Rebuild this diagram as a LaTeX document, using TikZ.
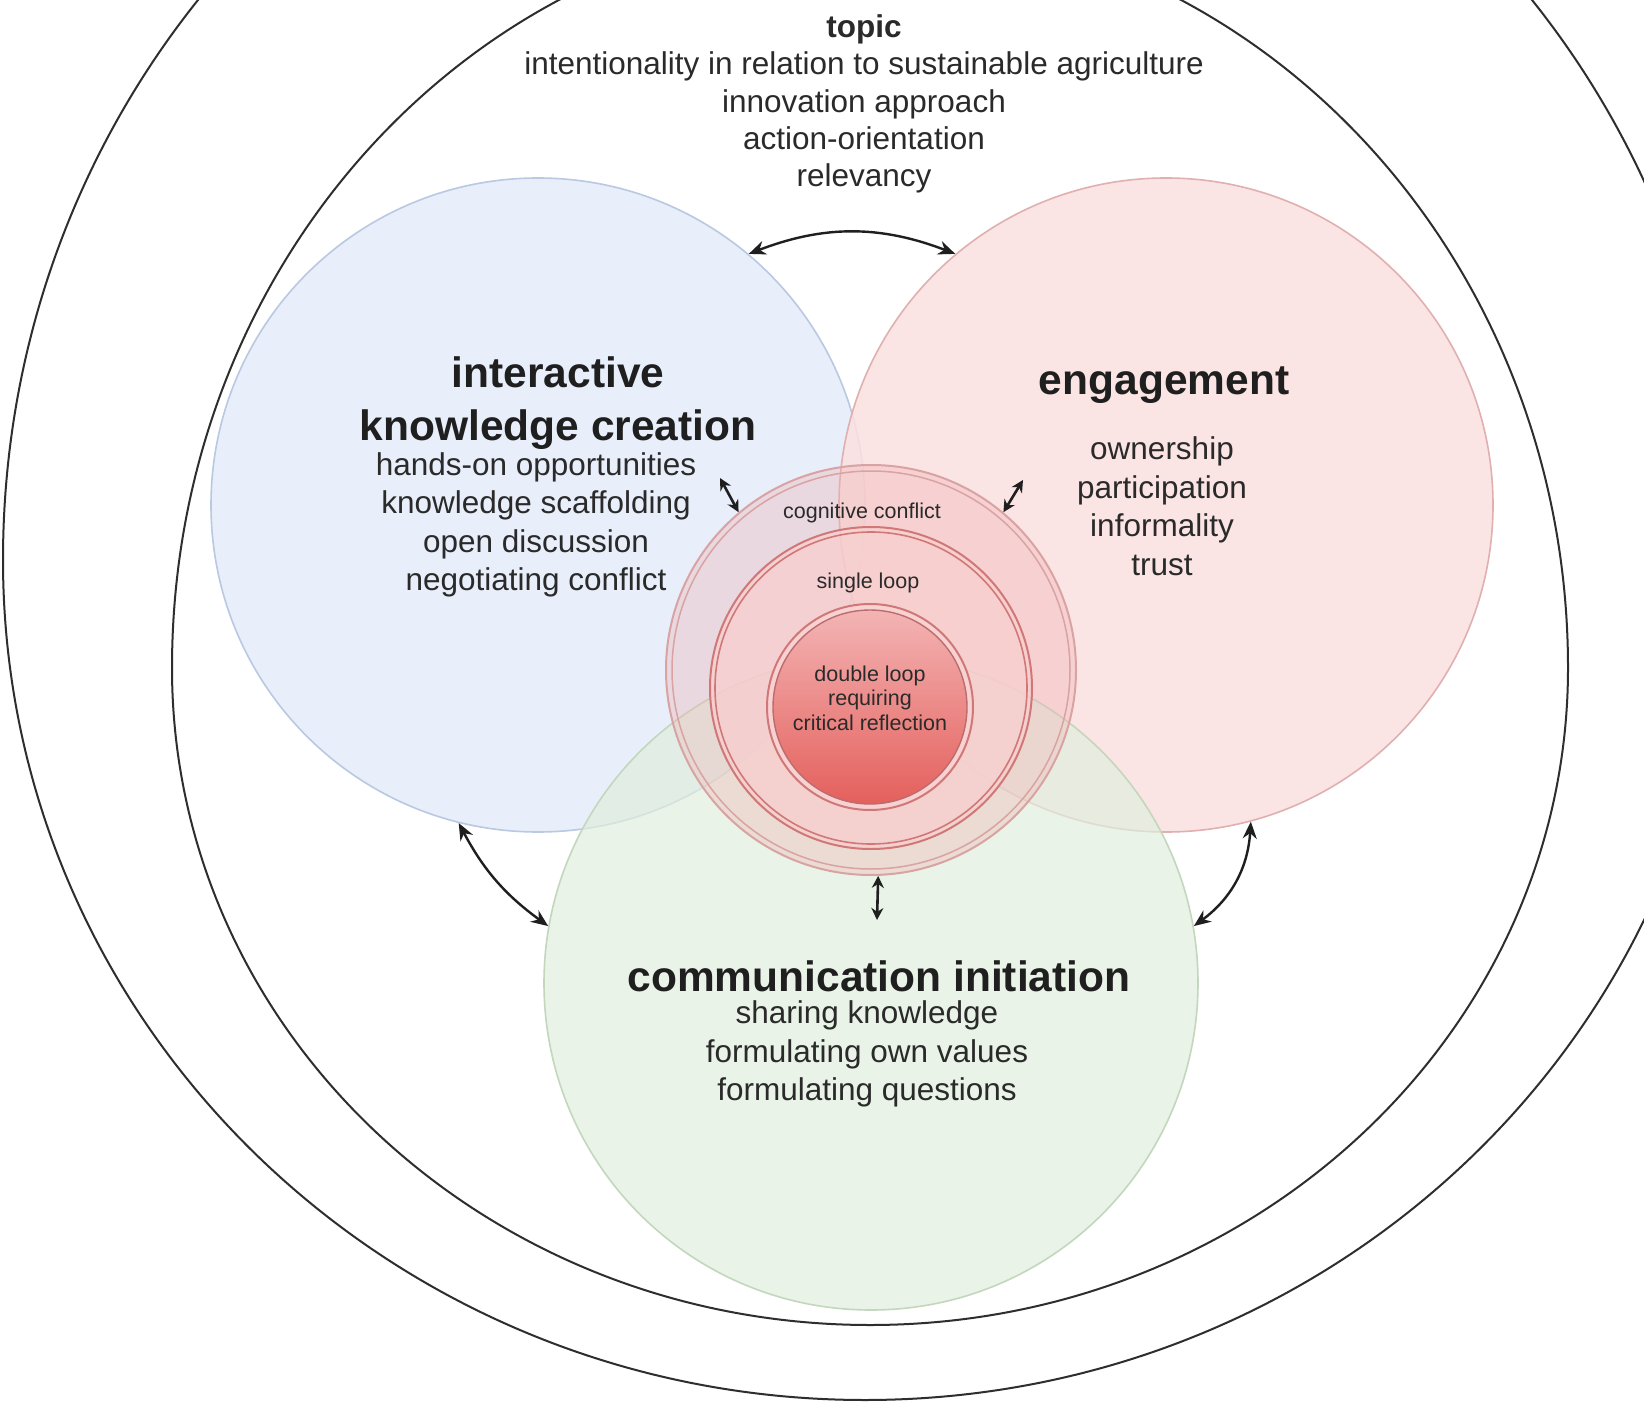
\documentclass[tikz,border=0pt]{standalone}
\usepackage{fontspec}
\setmainfont{Liberation Sans}
\usetikzlibrary{arrows.meta}
\definecolor{bluefill}{HTML}{E4ECFA}
\definecolor{blueedge}{HTML}{B9C9E2}
\definecolor{pinkfill}{HTML}{FBE0E0}
\definecolor{pinkedge}{HTML}{E0B0B0}
\definecolor{greenfill}{HTML}{E0EEDD}
\definecolor{greenedge}{HTML}{C3D7BD}
\definecolor{ringAfill}{HTML}{F0B0B0}
\definecolor{ringAedge}{HTML}{D9A3A3}
\definecolor{ringBfill}{HTML}{F7CFCF}
\definecolor{ringBedge}{HTML}{D07878}
\definecolor{ringCtop}{HTML}{F3B4B4}
\definecolor{ringCbot}{HTML}{E4605C}
\definecolor{txt}{HTML}{2A2A2A}
\begin{document}
\begin{tikzpicture}[x=1pt,y=-1pt,
  egg/.style={draw=black!82,line width=2pt},
  bigcirc/.style={circle,minimum size=654pt,inner sep=0pt,line width=1.6pt,fill opacity=0.85},
  biarrow/.style={{Stealth[length=17pt,width=14pt]}-{Stealth[length=17pt,width=14pt]},line width=2.4pt,black!88},
  shortarrow/.style={{Stealth[length=12pt,width=12pt]}-{Stealth[length=12pt,width=12pt]},line width=2.6pt,black!88},
  body/.style={font=\fontsize{31.5}{38.5}\selectfont,text=txt,align=center,inner sep=0pt},
  topicfont/.style={font=\fontsize{31.5}{37.3}\selectfont,text=txt,align=center,inner sep=0pt},
  head/.style={font=\fontsize{42.5}{53}\selectfont\bfseries,text=black!88,align=center,inner sep=0pt},
  small/.style={font=\fontsize{21.5}{24.5}\selectfont,text=txt,align=center,inner sep=0pt}]
\useasboundingbox (0,0) rectangle (1644,1404);
\fill[white] (0,0) rectangle (1644,1404);
\clip (0,0) rectangle (1644,1404);

% outer and inner egg-shaped boundaries
\draw[egg] (3,560) arc[start angle=180,end angle=0,x radius=862pt,y radius=884pt]
  arc[start angle=0,end angle=-180,x radius=862pt,y radius=840pt] -- cycle;
\draw[egg] (172,668) arc[start angle=180,end angle=0,x radius=698pt,y radius=746pt]
  arc[start angle=0,end angle=-180,x radius=698pt,y radius=657pt] -- cycle;

% three main circles
\node[bigcirc,fill=bluefill,draw=blueedge] (kc) at (538,505) {};
\node[bigcirc,fill=pinkfill,draw=pinkedge] (en) at (1166,505) {};
\node[bigcirc,fill=greenfill,draw=greenedge,fill opacity=0.7] (ci) at (871,983) {};

% central rings
\node[circle,inner sep=0pt,minimum size=410pt,fill=ringAfill,fill opacity=0.35,draw=ringAedge,line width=2pt] (cc) at (871,670) {};
\draw[ringAedge,line width=1.5pt] (cc.center) circle[radius=199pt];
\node[circle,inner sep=0pt,minimum size=322pt,fill=ringBfill,fill opacity=0.8,draw=ringBedge,line width=2pt] (sl) at (871,688) {};
\draw[ringBedge,line width=1.6pt] (sl.center) circle[radius=156pt];
\node[circle,inner sep=0pt,minimum size=206pt,fill=ringCtop!60!white,draw=ringBedge,line width=2pt] (dl) at (870,707) {};
\shade[top color=ringCtop,bottom color=ringCbot] (dl.center) circle[radius=97pt];
\draw[ringBedge!90!black,line width=1.4pt] (dl.center) circle[radius=97pt];

% texts
\node[topicfont] (topic) at (864,104) {\textbf{topic}\\intentionality in relation to sustainable agriculture\\innovation approach\\action-orientation\\relevancy};
\node[head] (kch) at (558,403) {interactive\\knowledge creation};
\node[body] (kcb) at (536,525) {hands-on opportunities\\knowledge scaffolding\\open discussion\\negotiating conflict};
\node[head] (enh) at (1164,385) {engagement};
\node[body] (enb) at (1162,506) {ownership\\participation\\informality\\trust};
\node[head] (cih) at (879,976) {communication initiation};
\node[body] (cib) at (867,1054) {sharing knowledge\\formulating own values\\formulating questions};
\node[small] (cct) at (862,513) {cognitive conflict};
\node[small] (slt) at (868,583) {single loop};
\node[small] (dlt) at (870,698) {double loop\\requiring\\critical reflection};

% connectors
\draw[biarrow] (kc.50) to[bend left=21] (en.130);
\coordinate (kcin) at (720,478);
\draw[shortarrow] (kcin) -- (cc.130);
\coordinate (enin) at (1023,480);
\draw[shortarrow] (enin) -- (cc.50);
\coordinate (ciin) at (877,920);
\draw[shortarrow] (cc.-88) -- (ciin);
\draw[biarrow] (kc.256) to[bend right=13] (ci.170);
\draw[biarrow] (en.285) to[bend left=25] (ci.10);
\end{tikzpicture}
\end{document}
